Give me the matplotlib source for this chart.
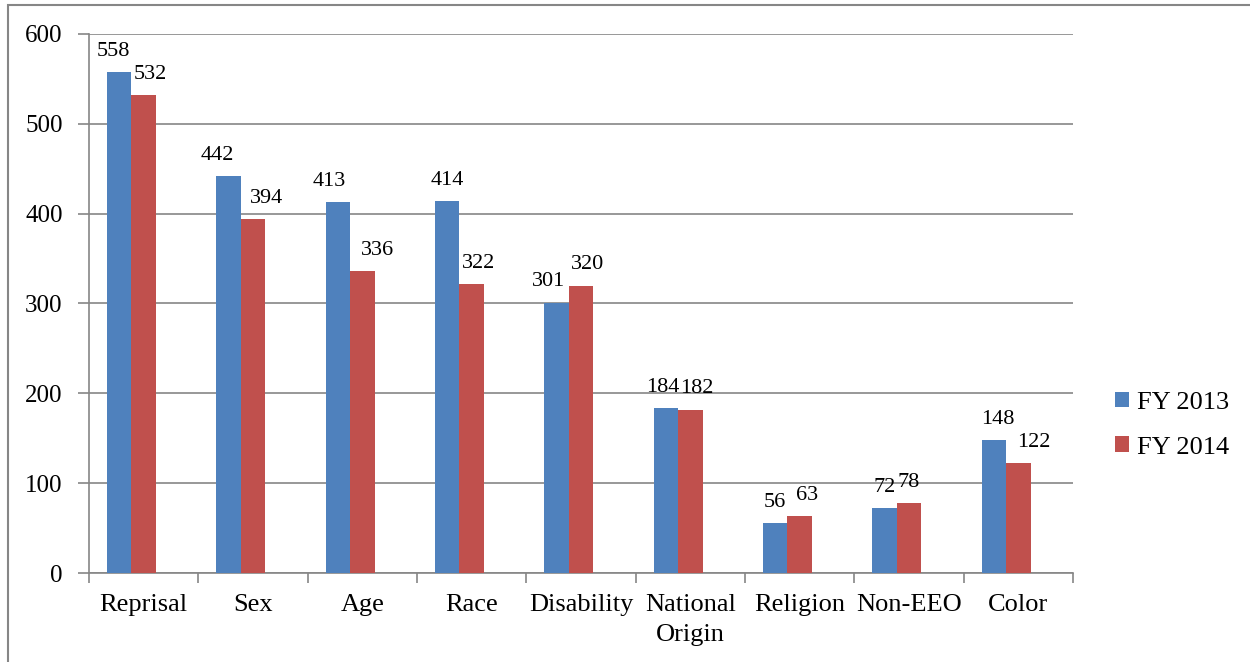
import matplotlib.pyplot as plt
import numpy as np
from matplotlib.patches import Rectangle

# EEO complaint bases, FY 2013 vs FY 2014
categories = ['Reprisal', 'Sex', 'Age', 'Race', 'Disability', 'National\nOrigin',
              'Religion', 'Non-EEO', 'Color']
fy2013 = [558, 442, 413, 414, 301, 184, 56, 72, 148]
fy2014 = [532, 394, 336, 322, 320, 182, 63, 78, 122]

# label nudges (points) so numbers sit like the original
nudge13 = [-4, -8, -6, 0, -6, -2, 0, 0, 3]
nudge14 = [5, 10, 11, 5, 5, 5, 5, 0, 11]

plt.rcParams['font.family'] = ['Liberation Serif', 'DejaVu Serif']

fig = plt.figure(figsize=(12.5, 6.62), dpi=100)
ax = fig.add_axes([89/1250, 1 - 573/662, (1073-89)/1250, (573-34)/662])

x = np.arange(len(categories))
w = 0.224
blue = '#4f81bd'
red = '#c0504d'
b1 = ax.bar(x - w, fy2013, w, color=blue, label='FY 2013', zorder=3)
b2 = ax.bar(x, fy2014, w, color=red, label='FY 2014', zorder=3)

for i in range(len(x)):
    ax.annotate(str(fy2013[i]), (x[i] - w, fy2013[i]), xytext=(nudge13[i], 8),
                textcoords='offset points', ha='center', va='bottom', fontsize=16)
    ax.annotate(str(fy2014[i]), (x[i], fy2014[i]), xytext=(nudge14[i], 8),
                textcoords='offset points', ha='center', va='bottom', fontsize=16)

ax.set_xlim(-0.5, len(categories) - 0.5)
ax.set_ylim(0, 600)
ax.set_yticks(range(0, 601, 100))
ax.yaxis.grid(True, color='#868686', linewidth=1.2, zorder=0)
ax.set_axisbelow(True)

ax.set_xticks(x)
ax.set_xticklabels(categories, fontsize=19, linespacing=1.5)
ax.set_xticks(np.arange(-0.5, len(categories)), minor=True)
ax.tick_params(axis='x', which='major', length=0, pad=15)
ax.tick_params(axis='x', which='minor', length=7, width=1.2, color='#868686', direction='out')
ax.tick_params(axis='y', length=8, width=1.2, color='#868686', labelsize=18, pad=11)

for s in ['top', 'right']:
    ax.spines[s].set_visible(False)
for s in ['left', 'bottom']:
    ax.spines[s].set_color('#868686')
    ax.spines[s].set_linewidth(1.2)

fig.legend(handles=[b1, b2], loc='center left', bbox_to_anchor=(1091/1250, 1 - 425/662),
           frameon=False, fontsize=19, handlelength=0.55, handleheight=0.55,
           handletextpad=0.3, labelspacing=0.85)

# outer chart border (only top and left edge visible in the original)
fig.patches.append(Rectangle((8/1250, -0.05), 1.1, 1 - 5/662 + 0.05, transform=fig.transFigure,
                             fill=False, edgecolor='#868686', linewidth=1.5))

fig.savefig('out.png', dpi=100)
